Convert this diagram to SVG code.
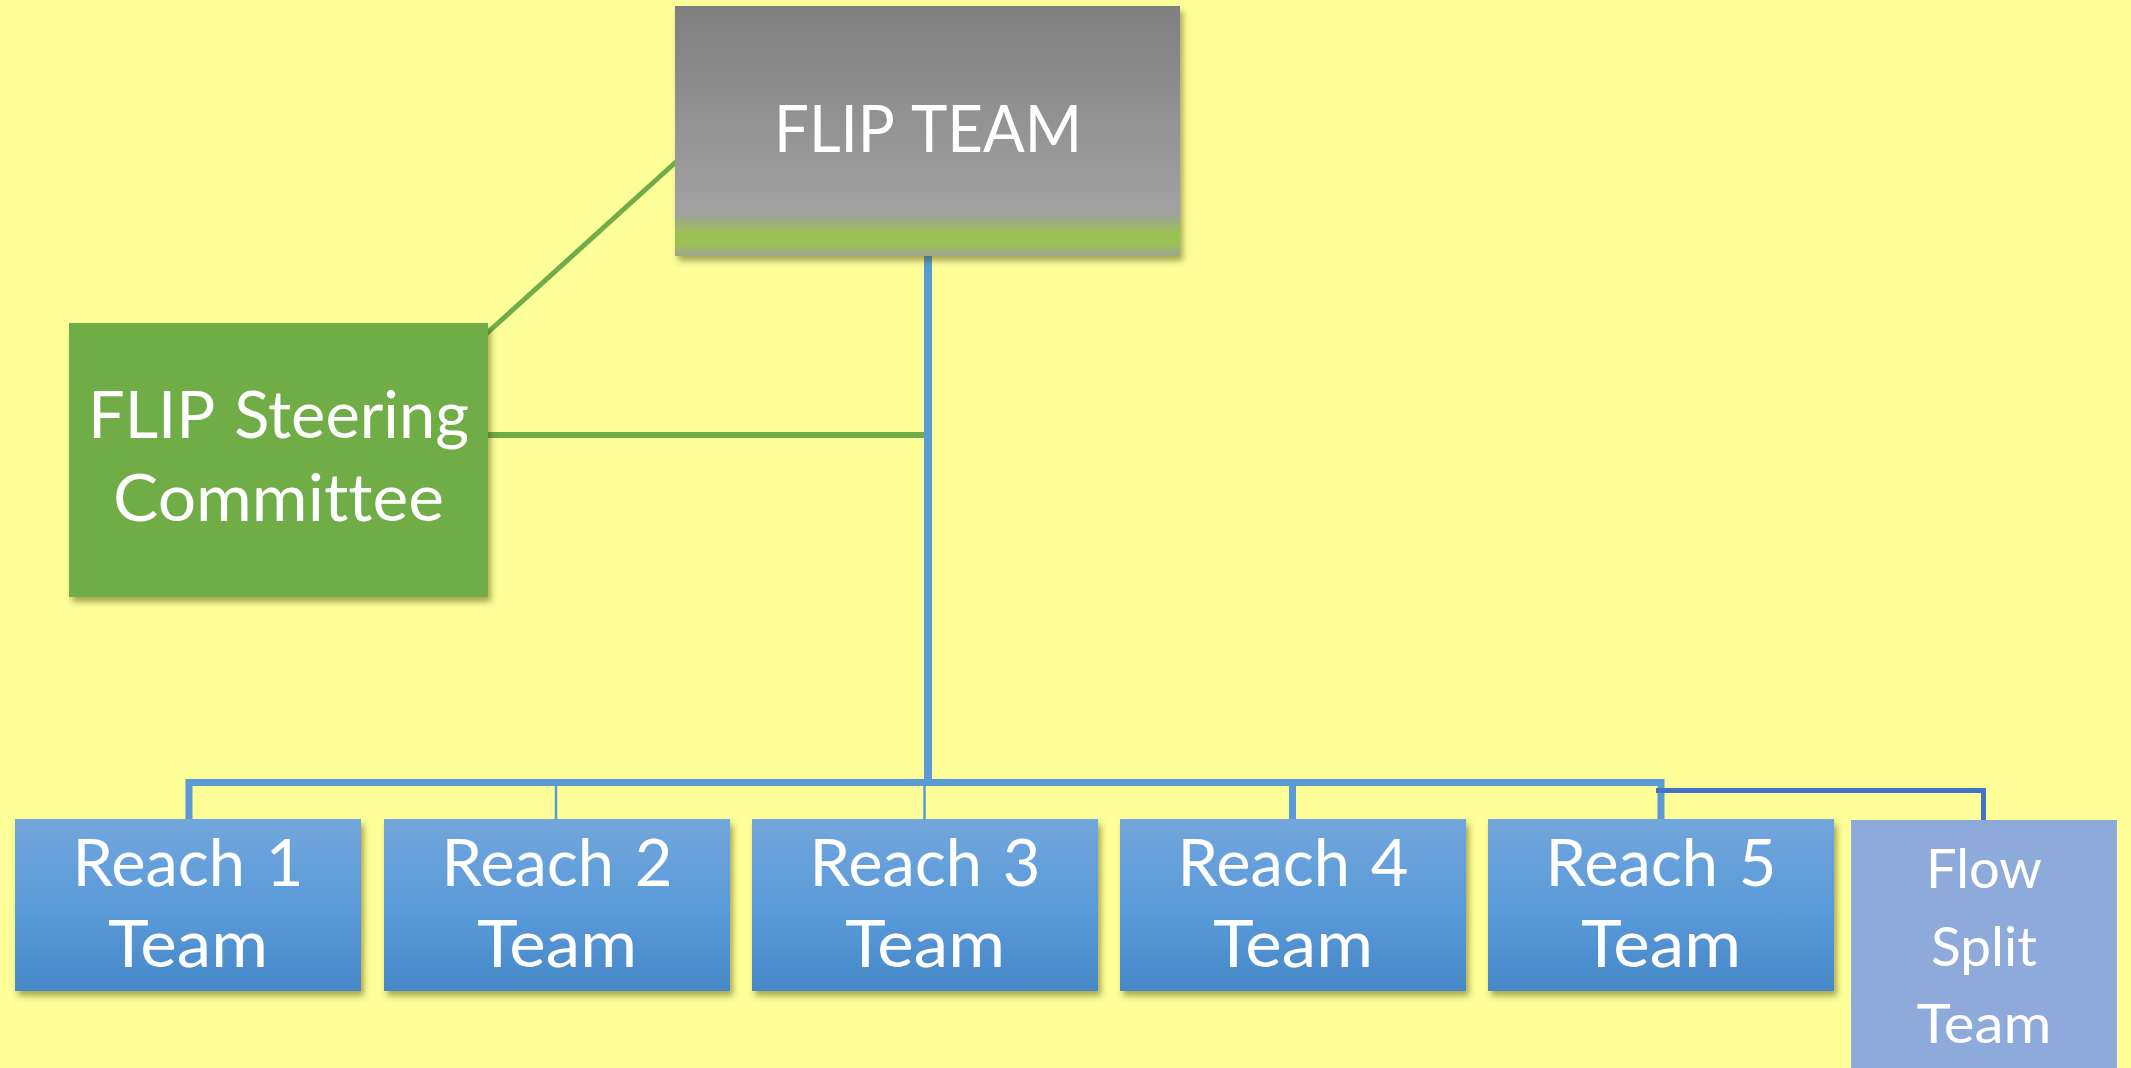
<svg xmlns="http://www.w3.org/2000/svg" width="2131" height="1068" viewBox="0 0 2131 1068">
  <defs>
    <linearGradient id="gradTop" x1="0" y1="0" x2="0" y2="1">
      <stop offset="0" stop-color="#7f7f7f"/>
      <stop offset="0.78" stop-color="#a0a0a0"/>
      <stop offset="0.83" stop-color="#a0a0a0"/>
      <stop offset="0.91" stop-color="#9bc152"/>
      <stop offset="0.95" stop-color="#9bc152"/>
      <stop offset="1" stop-color="#a0a48e"/>
    </linearGradient>
    <linearGradient id="gradReach" x1="0" y1="0" x2="0" y2="1">
      <stop offset="0" stop-color="#72a6dc"/>
      <stop offset="0.5" stop-color="#5b9bd9"/>
      <stop offset="1" stop-color="#4688c8"/>
    </linearGradient>
    <filter id="shadow" x="-10%" y="-10%" width="125%" height="130%">
      <feDropShadow dx="3" dy="5" stdDeviation="3" flood-color="#3a3a00" flood-opacity="0.45"/>
    </filter>
  </defs>
  <style>
    .label { font-family: Lato, "Open Sans", "Liberation Sans", sans-serif; fill: #ffffff; text-anchor: middle; font-variant-ligatures: none; font-feature-settings: "liga" 0, "clig" 0; }
    .big { font-size: 65px; word-spacing: 4px; }
    .small { font-size: 55px; }
    .reach { fill: url(#gradReach); filter: url(#shadow); }
    .green { stroke: #70ad47; fill: none; }
    .blue { stroke: #5b9bd5; fill: none; }
    .dark { stroke: #4472c4; fill: none; }
  </style>

  <rect width="2131" height="1068" fill="#ffff99"/>

  <g id="connectors">
    <line class="green" x1="486" y1="334" x2="677" y2="161" stroke-width="5"/>
    <line class="green" x1="488" y1="435" x2="928" y2="435" stroke-width="6"/>
    <line class="blue" x1="928" y1="256" x2="928" y2="783" stroke-width="8"/>
    <polyline class="blue" points="189,819 189,782.5 1661,782.5 1661,819" stroke-width="7"/>
    <line class="blue" x1="556" y1="782" x2="556" y2="819" stroke-width="2.5"/>
    <line class="blue" x1="924.5" y1="782" x2="924.5" y2="819" stroke-width="2.5"/>
    <line class="blue" x1="1292.5" y1="782" x2="1292.5" y2="819" stroke-width="7"/>
    <polyline class="dark" points="1656,790.5 1983.5,790.5 1983.5,821" stroke-width="5"/>
  </g>

  <g id="flip-team">
    <rect x="675" y="6" width="505" height="250" fill="url(#gradTop)" filter="url(#shadow)"/>
    <text class="label big" x="928" y="152" textLength="308" lengthAdjust="spacingAndGlyphs">FLIP TEAM</text>
  </g>

  <g id="steering-committee">
    <rect x="69" y="323" width="419" height="274" fill="#70ad47" filter="url(#shadow)"/>
    <text class="label big" x="278.5" y="438" textLength="381" lengthAdjust="spacingAndGlyphs">FLIP Steering</text>
    <text class="label big" x="278.5" y="521" textLength="331" lengthAdjust="spacingAndGlyphs">Committee</text>
  </g>

  <g id="reach-1">
    <rect class="reach" x="15" y="819" width="346" height="172"/>
    <text class="label big" x="188" y="886" textLength="231" lengthAdjust="spacingAndGlyphs">Reach 1</text>
    <text class="label big" x="188" y="967" textLength="160" lengthAdjust="spacingAndGlyphs">Team</text>
  </g>
  <g id="reach-2">
    <rect class="reach" x="384" y="819" width="346" height="172"/>
    <text class="label big" x="557" y="886" textLength="231" lengthAdjust="spacingAndGlyphs">Reach 2</text>
    <text class="label big" x="557" y="967" textLength="160" lengthAdjust="spacingAndGlyphs">Team</text>
  </g>
  <g id="reach-3">
    <rect class="reach" x="752" y="819" width="346" height="172"/>
    <text class="label big" x="925" y="886" textLength="231" lengthAdjust="spacingAndGlyphs">Reach 3</text>
    <text class="label big" x="925" y="967" textLength="160" lengthAdjust="spacingAndGlyphs">Team</text>
  </g>
  <g id="reach-4">
    <rect class="reach" x="1120" y="819" width="346" height="172"/>
    <text class="label big" x="1293" y="886" textLength="231" lengthAdjust="spacingAndGlyphs">Reach 4</text>
    <text class="label big" x="1293" y="967" textLength="160" lengthAdjust="spacingAndGlyphs">Team</text>
  </g>
  <g id="reach-5">
    <rect class="reach" x="1488" y="819" width="346" height="172"/>
    <text class="label big" x="1661" y="886" textLength="231" lengthAdjust="spacingAndGlyphs">Reach 5</text>
    <text class="label big" x="1661" y="967" textLength="160" lengthAdjust="spacingAndGlyphs">Team</text>
  </g>

  <g id="flow-split-team">
    <rect x="1851" y="820" width="266" height="248" fill="#8eaadb"/>
    <text class="label small" x="1984" y="888" textLength="116" lengthAdjust="spacingAndGlyphs">Flow</text>
    <text class="label small" x="1984" y="966" textLength="106" lengthAdjust="spacingAndGlyphs">Split</text>
    <text class="label small" x="1984" y="1043" textLength="135" lengthAdjust="spacingAndGlyphs">Team</text>
  </g>
</svg>
